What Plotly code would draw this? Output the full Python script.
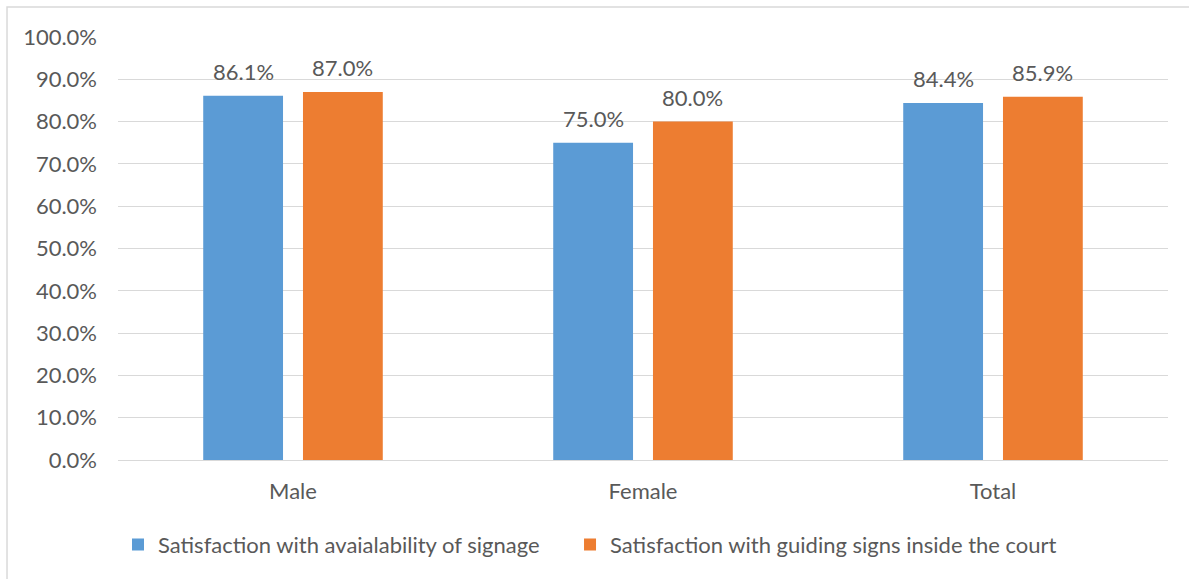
import plotly.graph_objects as go

# Satisfaction shares by group
categories = ["Male", "Female", "Total"]
signage_availability = [0.861, 0.750, 0.844]
guiding_signs = [0.870, 0.800, 0.859]
series_names = [
    "Satisfaction with avaialability of signage",
    "Satisfaction with guiding signs inside the court",
]
y_ticks = [i / 10 for i in range(11)]

BLUE = "#5B9BD5"
ORANGE = "#ED7D31"
TEXT = "#595959"
GRID = "#D9D9D9"
FONT = "Lato"
SIZE = 22

fig = go.Figure()
for name, vals, color, leg in [
    (series_names[0], signage_availability, BLUE, "legend"),
    (series_names[1], guiding_signs, ORANGE, "legend2"),
]:
    fig.add_trace(
        go.Bar(
            x=categories,
            y=vals,
            name=name,
            legend=leg,
            marker=dict(color=color, line=dict(width=0)),
        )
    )

# value labels above each bar, shifted to the bar's slot within the group
annotations = []
for shift, vals in [(-49.75, signage_availability), (49.75, guiding_signs)]:
    for cat, v in zip(categories, vals):
        annotations.append(
            dict(
                x=cat,
                y=v,
                xref="x",
                yref="y",
                text=f"{v:.1%}",
                showarrow=False,
                xanchor="center",
                yanchor="bottom",
                xshift=shift,
                yshift=9,
                font=dict(family=FONT, size=SIZE, color=TEXT),
            )
        )

legend_style = dict(
    orientation="h",
    xanchor="left",
    y=-0.2,
    yanchor="middle",
    font=dict(family=FONT, size=SIZE, color=TEXT),
    itemwidth=30,
)

fig.update_layout(
    width=1189,
    height=579,
    margin=dict(l=118, r=21, t=37, b=119),
    paper_bgcolor="white",
    plot_bgcolor="white",
    barmode="group",
    bargap=0.43,
    bargroupgap=0.2,
    font=dict(family=FONT, size=SIZE, color=TEXT),
    showlegend=True,
    legend=dict(x=0.0, **legend_style),
    legend2=dict(x=0.4305, **legend_style),
    xaxis=dict(
        showgrid=False,
        showline=False,
        ticks="",
        tickfont=dict(family=FONT, size=SIZE, color=TEXT),
        ticklabelstandoff=16,
    ),
    yaxis=dict(
        range=[0, 1.0],
        tickvals=y_ticks,
        tickformat=".1%",
        showgrid=True,
        gridcolor=GRID,
        gridwidth=1,
        zeroline=True,
        zerolinecolor=GRID,
        zerolinewidth=1,
        showline=False,
        ticks="",
        tickfont=dict(family=FONT, size=SIZE, color=TEXT),
        ticklabelstandoff=20,
    ),
    annotations=annotations,
    shapes=[
        dict(
            type="rect",
            xref="paper",
            yref="paper",
            x0=-0.1057,
            x1=1.2,
            y0=-0.5,
            y1=1.0709,
            line=dict(color=GRID, width=1.5),
            fillcolor="rgba(0,0,0,0)",
            layer="below",
        )
    ],
)

fig.write_html("out.html")
